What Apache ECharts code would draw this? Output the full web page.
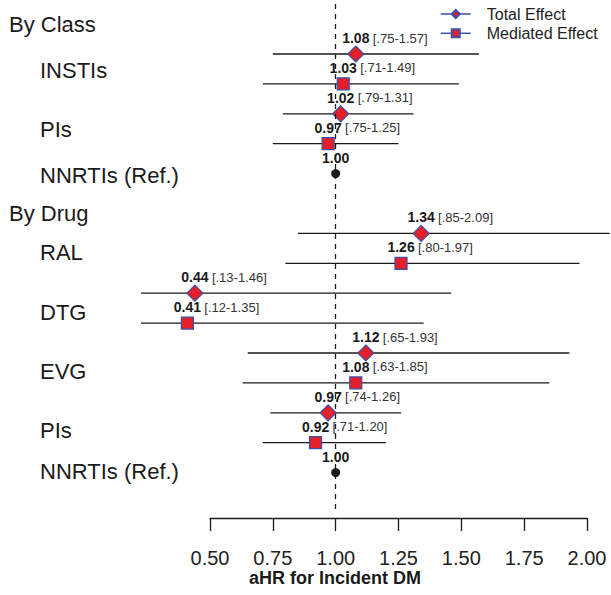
<!DOCTYPE html>
<html>
<head>
<meta charset="utf-8">
<script src="https://cdn.jsdelivr.net/npm/echarts@6/dist/echarts.min.js"></script>
<style>
  html, body { margin: 0; padding: 0; background: #fff; }
  #main { width: 611px; height: 595px; }
</style>
</head>
<body>
<div id="main"></div>
<script>
// row 0 is the first plotted row; rows are stacked top to bottom
var totalRows  = [0, 2, 6, 8, 10, 12];
var totalEst   = [1.08, 1.02, 1.34, 0.44, 1.12, 0.97];
var totalLow   = [0.75, 0.79, 0.85, 0.13, 0.65, 0.74];
var totalHigh  = [1.57, 1.31, 2.09, 1.46, 1.93, 1.26];

var medRows    = [1, 3, 7, 9, 11, 13];
var medEst     = [1.03, 0.97, 1.26, 0.41, 1.08, 0.92];
var medLow     = [0.71, 0.75, 0.80, 0.12, 0.63, 0.71];
var medHigh    = [1.49, 1.25, 1.97, 1.35, 1.85, 1.20];

var refRows    = [4, 14];
var refEst     = [1.00, 1.00];

var groupLabels = ['By Class', 'INSTIs', 'PIs', 'NNRTIs (Ref.)', 'By Drug', 'RAL', 'DTG', 'EVG', 'PIs', 'NNRTIs (Ref.)'];
var groupIsHeader = [true, false, false, false, true, false, false, false, false, false];

// layout
var FONT = "'Liberation Sans', Arial, Helvetica, sans-serif";
var RED = '#e3202a', BLUE = '#3c4fa6', INK = '#1a1a1a';
var PX = 377 / 1.5;              // pixels per unit on x
var ROW = 29.9;                  // pixels per row
var xMin = 0.5 - (210 - 141) / PX, xMax = xMin + 470 / PX;
var yMin = -(54 - 4) / ROW, yMax = yMin + 506 / ROW;
var labelRow = [-0.97, 0.54, 2.52, 4.08, 5.32, 6.64, 8.64, 10.62, 12.6, 13.97];

function shortNum(v) {
  var s = v.toFixed(2);
  return v < 1 ? s.slice(1) : s;
}

function markerData(est, rows, lo, hi) {
  return est.map(function (v, i) { return [v, rows[i], lo ? lo[i] : null, hi ? hi[i] : null]; });
}

var ciData = [];
totalEst.forEach(function (v, i) { ciData.push([totalLow[i], totalHigh[i], totalRows[i]]); });
medEst.forEach(function (v, i) { ciData.push([medLow[i], medHigh[i], medRows[i]]); });

var labelOpt = {
  show: true,
  position: 'inside',
  align: 'left',
  verticalAlign: 'middle',
  offset: [-13.6, -16],
  formatter: function (p) {
    var d = p.data;
    if (d[2] == null) return '{b|' + d[0].toFixed(2) + '}';
    return '{b|' + d[0].toFixed(2) + '} {n|[' + shortNum(d[2]) + '-' + shortNum(d[3]) + ']}';
  },
  rich: {
    b: { fontFamily: FONT, fontSize: 14, fontWeight: 'bold', color: INK },
    n: { fontFamily: FONT, fontSize: 13, color: '#333' }
  }
};

var chart = echarts.init(document.getElementById('main'), null, { renderer: 'svg' });

chart.setOption({
  animation: false,
  backgroundColor: '#fff',
  textStyle: { fontFamily: FONT },
  grid: [
    { left: 141, width: 470, top: 4, height: 506 },
    { left: 210, width: 377, top: 400, height: 118 }
  ],
  xAxis: [
    { gridIndex: 0, type: 'value', min: xMin, max: xMax, show: false },
    {
      gridIndex: 1, type: 'value', min: 0.5, max: 2.0, interval: 0.25,
      axisLine: { show: true, lineStyle: { color: INK, width: 1.3 } },
      axisTick: { show: true, length: 13, lineStyle: { color: INK, width: 1.3 } },
      axisLabel: {
        margin: 30, fontSize: 20, color: '#222', fontFamily: FONT,
        formatter: function (v) { return v.toFixed(2); }
      },
      splitLine: { show: false }
    }
  ],
  yAxis: [
    { gridIndex: 0, type: 'value', min: yMin, max: yMax, inverse: true, show: false },
    { gridIndex: 1, type: 'value', min: 0, max: 1, show: false }
  ],
  legend: {
    data: ['Total Effect', 'Mediated Effect'],
    orient: 'vertical',
    left: 440,
    top: 6,
    padding: 0,
    itemWidth: 30,
    itemHeight: 10,
    itemGap: 3.3,
    selectedMode: false,
    lineStyle: { color: BLUE, width: 1.5, opacity: 1 },
    textStyle: { fontFamily: FONT, fontSize: 16, lineHeight: 16, color: '#222', padding: [0, 0, 0, 11] }
  },
  series: [
    {
      name: 'ci',
      type: 'custom',
      xAxisIndex: 0, yAxisIndex: 0,
      clip: true,
      z: 1,
      encode: { x: [0, 1], y: 2 },
      data: ciData,
      renderItem: function (params, api) {
        var a = api.coord([api.value(0), api.value(2)]);
        var b = api.coord([api.value(1), api.value(2)]);
        return {
          type: 'line',
          shape: { x1: a[0], y1: a[1], x2: b[0], y2: b[1] },
          style: { stroke: INK, lineWidth: 1.3 }
        };
      },
      markLine: {
        silent: true,
        symbol: ['none', 'none'],
        label: { show: false },
        lineStyle: { type: [5, 5], color: INK, width: 1.3 },
        data: [{ xAxis: 1 }]
      }
    },
    {
      name: 'Total Effect',
      type: 'line',
      xAxisIndex: 0, yAxisIndex: 0,
      z: 3,
      symbol: 'diamond',
      symbolSize: 16,
      showAllSymbol: true,
      lineStyle: { width: 0, opacity: 0 },
      itemStyle: { color: RED, borderColor: BLUE, borderWidth: 1.2 },
      label: labelOpt,
      data: markerData(totalEst, totalRows, totalLow, totalHigh)
    },
    {
      name: 'Mediated Effect',
      type: 'line',
      xAxisIndex: 0, yAxisIndex: 0,
      z: 3,
      symbol: 'rect',
      symbolSize: 12,
      showAllSymbol: true,
      lineStyle: { width: 0, opacity: 0 },
      itemStyle: { color: RED, borderColor: BLUE, borderWidth: 1.2 },
      label: labelOpt,
      data: markerData(medEst, medRows, medLow, medHigh)
    },
    {
      name: 'ref',
      type: 'scatter',
      xAxisIndex: 0, yAxisIndex: 0,
      z: 3,
      symbol: 'circle',
      symbolSize: 9,
      itemStyle: { color: INK, opacity: 1 },
      label: labelOpt,
      data: markerData(refEst, refRows)
    }
  ]
});

// row labels and axis title, placed with the y scale of the plot
var graphics = groupLabels.map(function (t, i) {
  var y = chart.convertToPixel({ gridIndex: 0 }, [1, labelRow[i]])[1];
  return {
    type: 'text',
    x: groupIsHeader[i] ? 9 : 40,
    y: y,
    style: { text: t, fontFamily: FONT, fontSize: 22, fill: INK, align: 'left', verticalAlign: 'middle' }
  };
});
graphics.push({
  type: 'text',
  x: 335, y: 578,
  style: { text: 'aHR for Incident DM', fontFamily: FONT, fontSize: 18, fontWeight: 'bold', fill: INK, align: 'center', verticalAlign: 'middle' }
});
chart.setOption({ graphic: graphics });
</script>
</body>
</html>
